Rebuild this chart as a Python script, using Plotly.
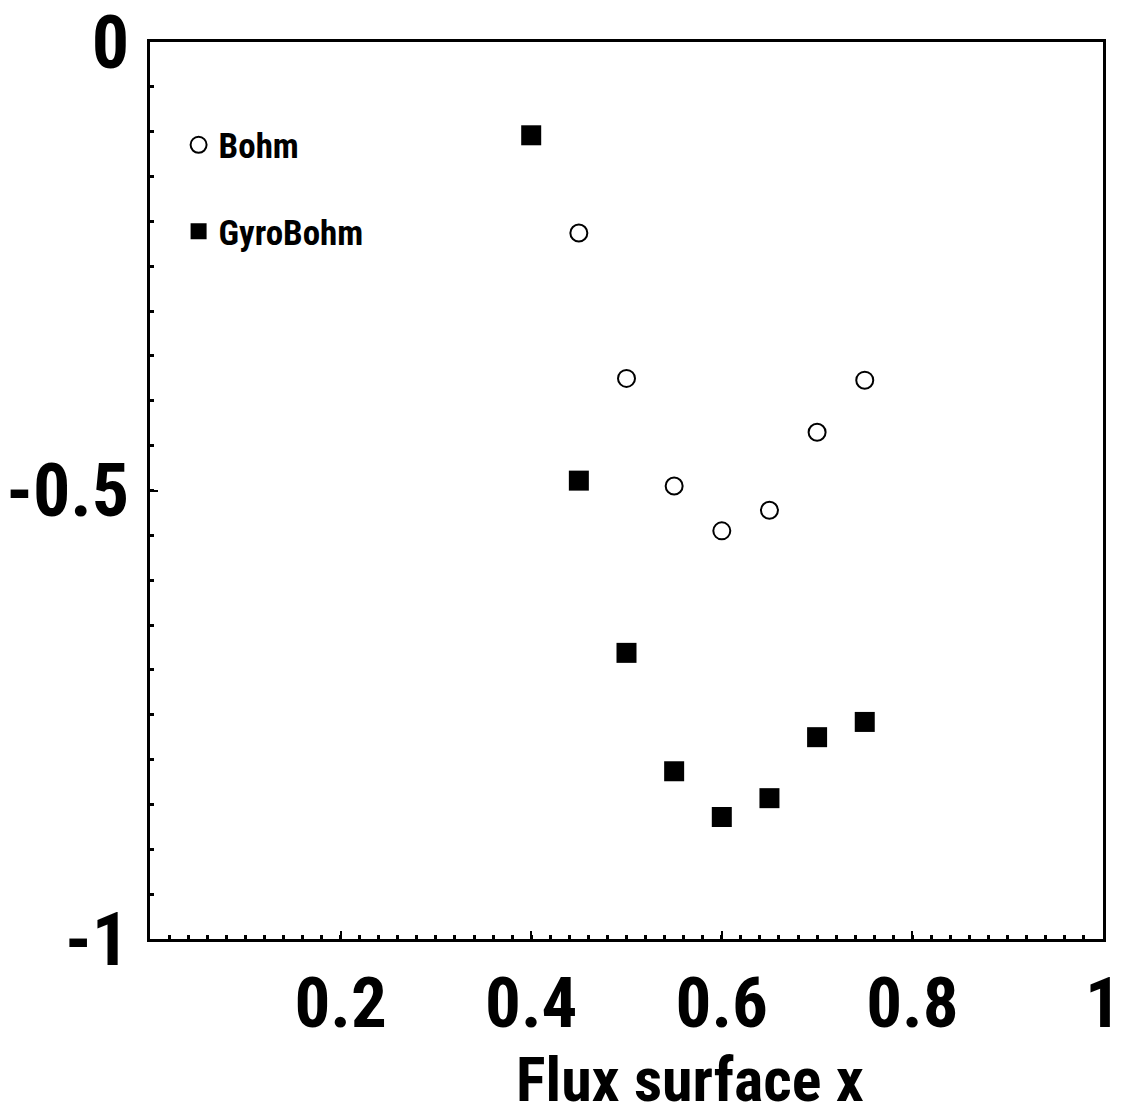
import plotly.graph_objects as go

bohm_x = [0.45, 0.5, 0.55, 0.6, 0.65, 0.7, 0.75]
bohm_y = [-0.213, -0.375, -0.495, -0.545, -0.522, -0.435, -0.377]

gyro_x = [0.4, 0.45, 0.5, 0.55, 0.6, 0.65, 0.7, 0.75]
gyro_y = [-0.104, -0.489, -0.681, -0.813, -0.864, -0.843, -0.775, -0.758]

x_tickvals = [0.2, 0.4, 0.6, 0.8, 1.0]
x_ticktext = ["0.2", "0.4", "0.6", "0.8", "1"]
y_tickvals = [-1, -0.5, 0]
y_ticktext = ["-1", "-0.5", "0"]

FONT = "Liberation Sans Narrow, Arial Narrow, Roboto Condensed, sans-serif"

fig = go.Figure()
fig.add_trace(go.Scatter(
    x=bohm_x, y=bohm_y, mode="markers", name="<b>Bohm</b>", legendgroup="a",
    marker=dict(symbol="circle-open", size=17, color="black", line=dict(width=2, color="black")),
))
fig.add_trace(go.Scatter(
    x=gyro_x, y=gyro_y, mode="markers", name="<b>GyroBohm</b>", legendgroup="b",
    marker=dict(symbol="square", size=20, color="black", line=dict(width=0)),
))

axis_common = dict(
    showline=True, linecolor="black", linewidth=3, mirror=True,
    ticks="inside", tickcolor="black", tickwidth=2, ticklen=8,
    showgrid=False, zeroline=False, automargin=False,
    ticklabeloverflow="allow",
)

fig.update_layout(
    width=1126, height=1120,
    margin=dict(l=150, r=23, t=42, b=181),
    paper_bgcolor="white", plot_bgcolor="white",
    font=dict(family=FONT, color="black"),
    showlegend=True,
    legend=dict(
        x=0.03, y=0.918, xanchor="left", yanchor="top",
        bgcolor="rgba(0,0,0,0)", borderwidth=0,
        font=dict(family=FONT, size=35, color="black"),
        tracegroupgap=38, itemwidth=30,
    ),
    xaxis=dict(
        range=[0, 1], tickvals=x_tickvals, ticktext=x_ticktext,
        tickfont=dict(family=FONT, size=71, color="black", weight="bold"),
        minor=dict(dtick=0.02, tick0=0, ticks="inside", ticklen=4, tickwidth=3, tickcolor="black"),
        **axis_common,
    ),
    yaxis=dict(
        range=[-1, 0], tickvals=y_tickvals, ticktext=y_ticktext,
        ticklabelstandoff=3,
        tickfont=dict(family=FONT, size=74, color="black", weight="bold"),
        minor=dict(dtick=0.05, tick0=0, ticks="inside", ticklen=4, tickwidth=3, tickcolor="black"),
        **axis_common,
    ),
    annotations=[dict(
        text="<b>Flux surface x</b>", xref="paper", yref="paper",
        x=0.567, y=-0.157, xanchor="center", yanchor="middle", showarrow=False,
        font=dict(family=FONT, size=62, color="black"),
    )],
)

fig.write_html("out.html")
